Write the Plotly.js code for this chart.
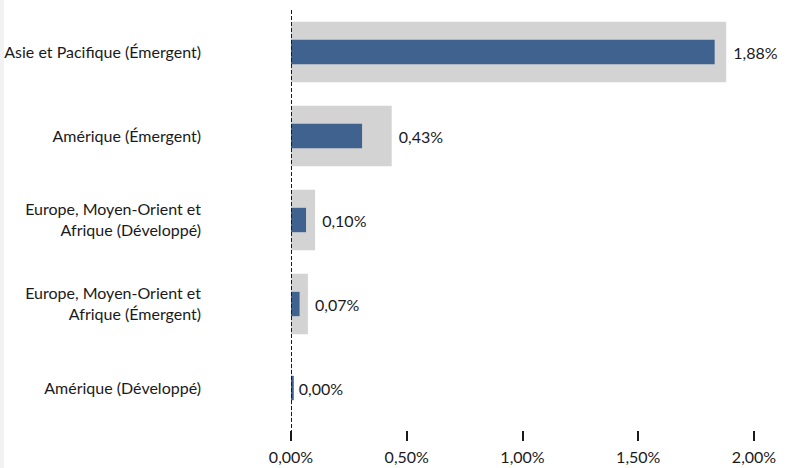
<!DOCTYPE html>
<html><head><meta charset="utf-8">
<script src="https://cdn.plot.ly/plotly-3.0.1.min.js"></script>
<style>html,body{margin:0;padding:0;background:#fff;}#c{width:804px;height:468px;}</style>
</head><body><div id="c"></div>
<script>
const categories = [
  "Asie et Pacifique (Émergent)",
  "Amérique (Émergent)",
  "Europe, Moyen-Orient et<br>Afrique (Développé)",
  "Europe, Moyen-Orient et<br>Afrique (Émergent)",
  "Amérique (Développé)"
];
const greyValues = [1.88, 0.435, 0.104, 0.073, 0.003];
const blueValues = [1.83, 0.307, 0.065, 0.037, 0.012];
const xTickVals = [0, 0.5, 1.0, 1.5, 2.0];
const xTickLabels = ["0,00%", "0,50%", "1,00%", "1,50%", "2,00%"];

const FONT = "Lato, 'Open Sans', sans-serif";
const grey = {
  type: 'bar', orientation: 'h', y: categories, x: greyValues,
  width: 0.72, marker: {color: '#d3d3d3'},
  texttemplate: ' %{x:.2f}%', textposition: 'outside',
  cliponaxis: false, textfont: {family: FONT, size: 16, color: '#1a1a1a'},
  hoverinfo: 'skip'
};
const blue = {
  type: 'bar', orientation: 'h', y: categories, x: blueValues,
  width: 0.29, marker: {color: '#3f628e'}, hoverinfo: 'skip'
};
const layout = {
  width: 804, height: 468,
  margin: {l: 291, r: 50, t: 10, b: 38},
  barmode: 'overlay', showlegend: false,
  separators: ',.',
  paper_bgcolor: '#fff', plot_bgcolor: '#fff',
  font: {family: FONT, size: 16, color: '#1a1a1a'},
  xaxis: {
    range: [0, 2.0], tickvals: xTickVals, ticktext: xTickLabels,
    showgrid: false, zeroline: false, showline: false,
    ticks: 'outside', ticklen: 10, tickwidth: 2, tickcolor: '#1a1a1a',
    ticklabelstandoff: 3
  },
  yaxis: {
    autorange: 'reversed', showgrid: false, zeroline: false, showline: false,
    ticks: '', ticklabelstandoff: 89
  },
  shapes: [
    {type: 'line', xref: 'x', yref: 'paper', x0: 0, x1: 0, y0: -10/420, y1: 1,
     line: {color: '#1a1a1a', width: 2, dash: '4px,2px'}},
    {type: 'rect', xref: 'paper', yref: 'paper', x0: -291/463, x1: -287/463, y0: -38/420, y1: 1 + 10/420,
     fillcolor: '#f2f2f2', line: {width: 0}}
  ]
};
Plotly.newPlot('c', [grey, blue], layout, {staticPlot: true});
</script>
</body></html>
